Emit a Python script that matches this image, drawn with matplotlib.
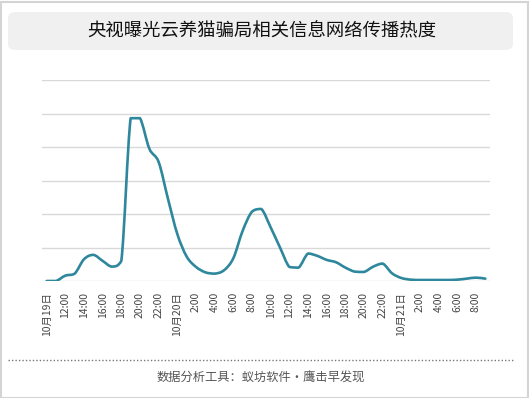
import matplotlib
matplotlib.use("Agg")
import matplotlib.pyplot as plt
import numpy as np
from matplotlib.path import Path
from matplotlib.patches import PathPatch, FancyBboxPatch, Rectangle

plt.rcParams['font.family'] = ['Noto Sans CJK SC', 'DejaVu Sans']

# hourly heat values, 10/19 10:00 -> 10/21 9:00
heat = [0.0, 0.0, 0.16, 0.22, 0.65, 0.78, 0.60, 0.43, 0.60, 4.86,
        4.86, 3.95, 3.55, 2.45, 1.40, 0.73, 0.42, 0.26, 0.22, 0.32,
        0.68, 1.50, 2.07, 2.15, 1.60, 1.00, 0.42, 0.40, 0.82, 0.75,
        0.63, 0.56, 0.40, 0.28, 0.27, 0.43, 0.52, 0.23, 0.09, 0.04,
        0.03, 0.03, 0.03, 0.03, 0.04, 0.07, 0.10, 0.07]

# tick labels every 2 hours
tick_labels = ['10月19日', '12:00', '14:00', '16:00', '18:00', '20:00', '22:00',
               '10月20日', '2:00', '4:00', '6:00', '8:00', '10:00', '12:00',
               '14:00', '16:00', '18:00', '20:00', '22:00', '10月21日',
               '2:00', '4:00', '6:00', '8:00']

title = '央视曝光云养猫骗局相关信息网络传播热度'
footer = '数据分析工具：蚁坊软件·鹰击早发现'

W, H = 529, 398
fig = plt.figure(figsize=(W / 100, H / 100), dpi=100)
fig.patch.set_facecolor('white')

# outer border
fig.patches.append(Rectangle((0.5 / W, 0.5 / H), 1 - 2 / W, 1 - 2 / H, transform=fig.transFigure,
                             fill=False, edgecolor='#d4d4d4', linewidth=1.5))

# title box
fig.patches.append(FancyBboxPatch((8 / W, 1 - 50 / H), 505 / W, 38 / H,
                                  boxstyle='round,pad=0,rounding_size=0.015',
                                  transform=fig.transFigure, facecolor='#f0f0f0',
                                  edgecolor='none'))
fig.text(262 / W, 1 - 31 / H, title, ha='center', va='center', fontsize=13.2, color='#111111')

ax = fig.add_axes([42 / W, 1 - 281 / H, 448 / W, 201 / H])
x = np.arange(len(heat))

# smooth curve (Catmull-Rom -> cubic bezier, control points kept inside each segment)
pts = np.column_stack([x, heat]).astype(float)
n = len(pts)
verts = [tuple(pts[0])]
codes = [Path.MOVETO]
for i in range(n - 1):
    p0 = pts[max(i - 1, 0)]
    p1 = pts[i]
    p2 = pts[i + 1]
    p3 = pts[min(i + 2, n - 1)]
    c1 = p1 + (p2 - p0) / 6.0
    c2 = p2 - (p3 - p1) / 6.0
    lo, hi = min(p1[1], p2[1]), max(p1[1], p2[1])
    c1[1] = min(max(c1[1], lo), hi)
    c2[1] = min(max(c2[1], lo), hi)
    verts += [tuple(c1), tuple(c2), tuple(p2)]
    codes += [Path.CURVE4] * 3
ax.add_patch(PathPatch(Path(verts, codes), facecolor='none', edgecolor='#2e879c',
                       linewidth=1.9, capstyle='round', joinstyle='round', zorder=3))

ax.set_xlim(-0.5, len(heat) - 0.5)
ax.set_ylim(0, 6)
ax.set_yticks(range(7))
ax.set_yticklabels([])
ax.grid(axis='y', color='#d9d9d9', linewidth=1)
ax.set_axisbelow(True)
for s in ax.spines.values():
    s.set_visible(False)
ax.tick_params(axis='y', length=0)
ax.set_xticks(x[::2])
ax.set_xticklabels(tick_labels, rotation=90, fontsize=7.5, color='#444444')
ax.tick_params(axis='x', length=0, pad=8)

# dotted separator and footer
fig.add_artist(plt.Line2D([8 / W, 515 / W], [1 - 360 / H, 1 - 360 / H], transform=fig.transFigure,
                          color='#777777', linewidth=1, linestyle=(0, (1, 1.5))))
fig.text(261 / W, 1 - 378 / H, footer, ha='center', va='center', fontsize=8.8, color='#555555')

fig.savefig('out.png', dpi=100)
